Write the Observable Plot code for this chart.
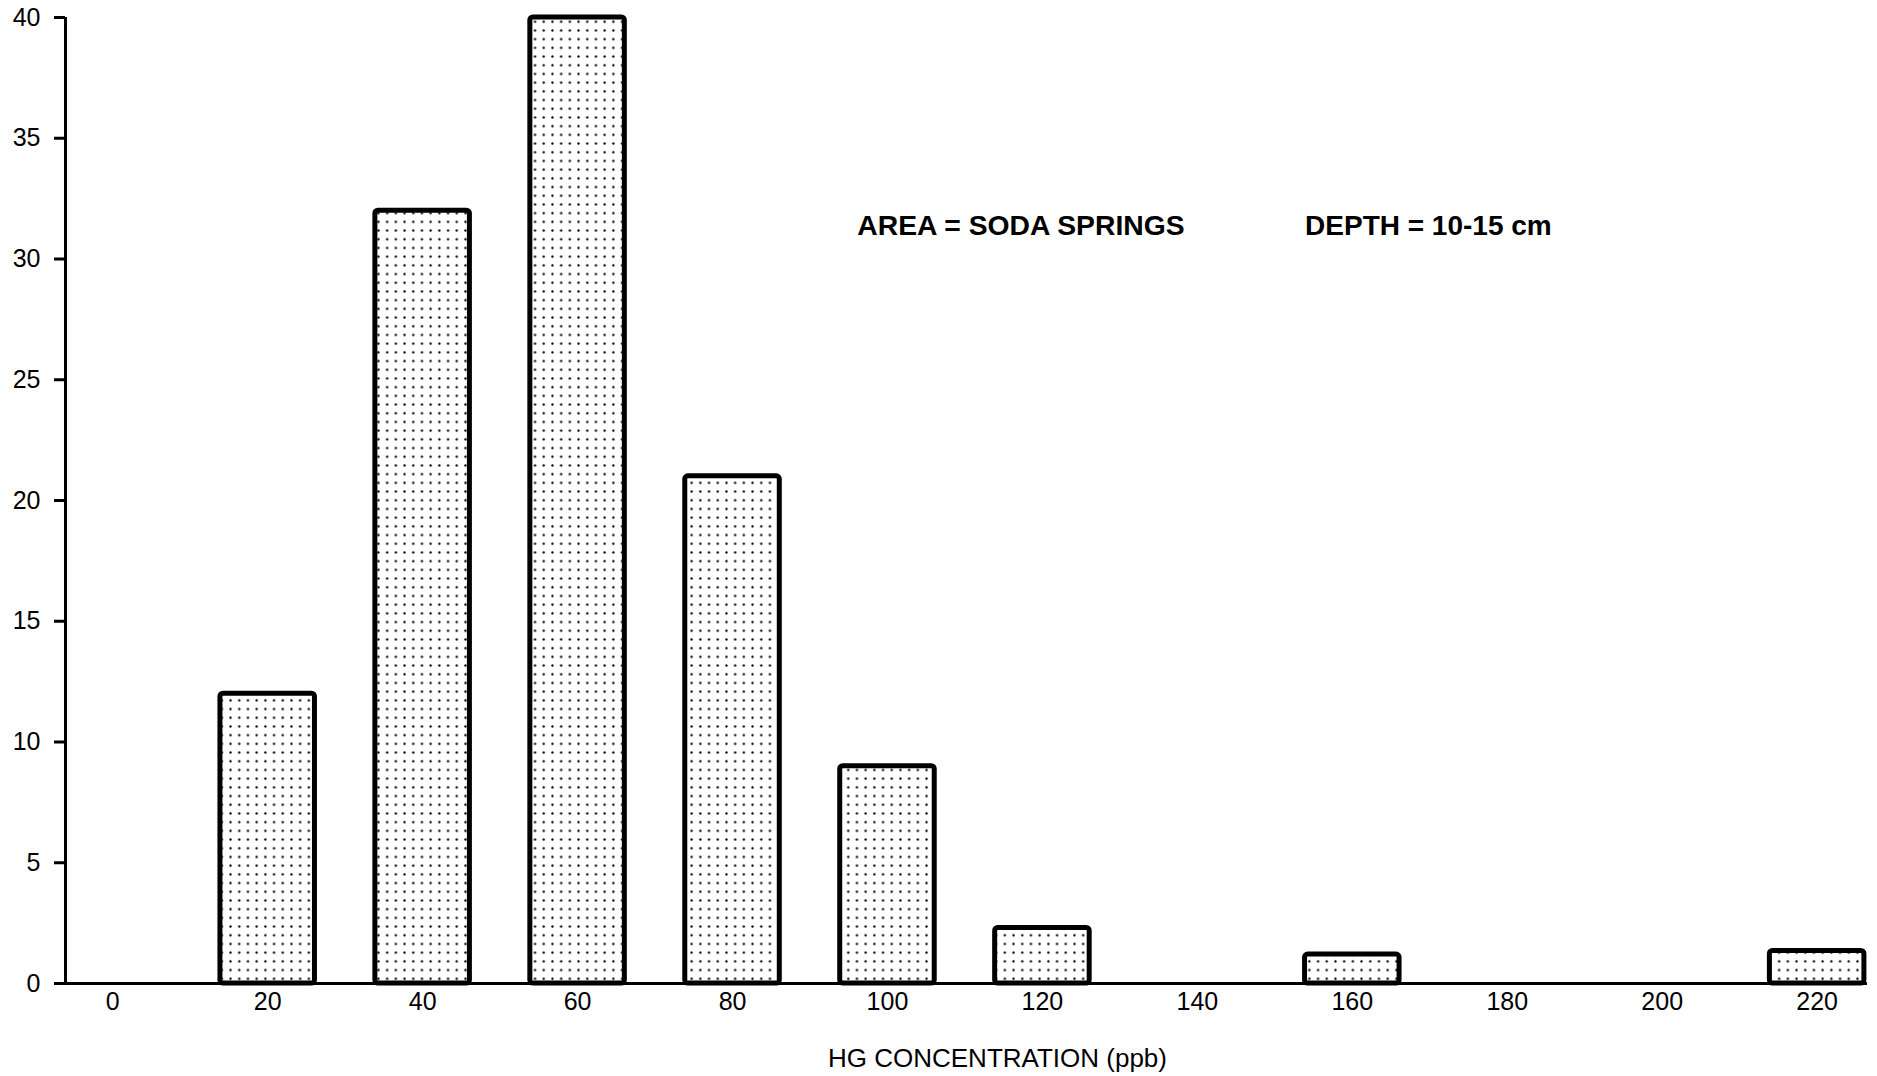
<!DOCTYPE html>
<html>
<head>
<meta charset="utf-8">
<script src="https://cdn.jsdelivr.net/npm/d3@7"></script>
<script src="https://cdn.jsdelivr.net/npm/@observablehq/plot@0.6"></script>
<style>
  html, body { margin: 0; padding: 0; background: #fff; }
  svg { display: block; }
</style>
</head>
<body>
<div id="chart"></div>
<script>
// Hg concentration bins (ppb) and sample counts
const bins = [20, 40, 60, 80, 100, 120, 140, 160, 180, 200, 220];
const counts = [12, 32, 40, 21, 9, 2.3, 0, 1.2, 0, 0, 1.35];
const xTicks = [0, 20, 40, 60, 80, 100, 120, 140, 160, 180, 200, 220];
const yTicks = [0, 5, 10, 15, 20, 25, 30, 35, 40];
const xLabel = "HG CONCENTRATION (ppb)";
const areaNote = "AREA = SODA SPRINGS";
const depthNote = "DEPTH = 10-15 cm";

const data = bins.map((b, i) => ({bin: b, count: counts[i]})).filter(d => d.count > 0);
const halfWidth = 6.1;

const chart = Plot.plot({
  width: 1877,
  height: 1076,
  marginLeft: 65,
  marginRight: 10,
  marginTop: 17,
  marginBottom: 93,
  style: {background: "#fff", fontFamily: "'Liberation Sans', Arial, sans-serif", color: "#000"},
  x: {domain: [-6.1, 226.5]},
  y: {domain: [0, 40]},
  marks: [
    Plot.rect(data, {
      x1: d => d.bin - halfWidth,
      x2: d => d.bin + halfWidth,
      y1: 0,
      y2: "count",
      fill: "url(#dots)",
      stroke: "#000",
      strokeWidth: 5,
      strokeLinejoin: "round",
      rx: 3
    }),
    Plot.ruleY([0], {stroke: "#000", strokeWidth: 3}),
    Plot.ruleX([-6.1], {y1: 0, y2: 40, stroke: "#000", strokeWidth: 3}),
    Plot.axisY({
      ticks: yTicks,
      tickSize: 11,
      tickPadding: 14,
      strokeWidth: 3,
      fontSize: 25,
      label: null,
      tickFormat: d => String(d)
    }),
    Plot.axisX({
      ticks: xTicks,
      tickSize: 0,
      tickPadding: 9,
      fontSize: 25,
      label: null,
      tickFormat: d => String(d)
    }),
    Plot.text([xLabel], {
      x: 114.2,
      frameAnchor: "bottom",
      dy: 75,
      text: d => d,
      fontSize: 26,
      textAnchor: "middle",
      lineAnchor: "middle",
      fill: "#000"
    }),
    Plot.text([areaNote], {
      x: 96.1,
      y: 31.35,
      text: d => d,
      fontSize: 28.3,
      fontWeight: "bold",
      textAnchor: "start",
      lineAnchor: "middle",
      fill: "#000"
    }),
    Plot.text([depthNote], {
      x: 153.9,
      y: 31.35,
      text: d => d,
      fontSize: 28,
      fontWeight: "bold",
      textAnchor: "start",
      lineAnchor: "middle",
      fill: "#000"
    })
  ]
});

// dotted (stippled) fill pattern used by the bars
const ns = "http://www.w3.org/2000/svg";
const defs = document.createElementNS(ns, "defs");
const pat = document.createElementNS(ns, "pattern");
pat.setAttribute("id", "dots");
pat.setAttribute("patternUnits", "userSpaceOnUse");
pat.setAttribute("width", "8.7");
pat.setAttribute("height", "8.7");
const bg = document.createElementNS(ns, "rect");
bg.setAttribute("width", "8.7");
bg.setAttribute("height", "8.7");
bg.setAttribute("fill", "#fff");
const dot = document.createElementNS(ns, "circle");
dot.setAttribute("cx", "4.35");
dot.setAttribute("cy", "4.35");
dot.setAttribute("r", "1.15");
dot.setAttribute("fill", "#000");
pat.appendChild(bg);
pat.appendChild(dot);
defs.appendChild(pat);
chart.insertBefore(defs, chart.firstChild);

document.getElementById("chart").appendChild(chart);
</script>
</body>
</html>
